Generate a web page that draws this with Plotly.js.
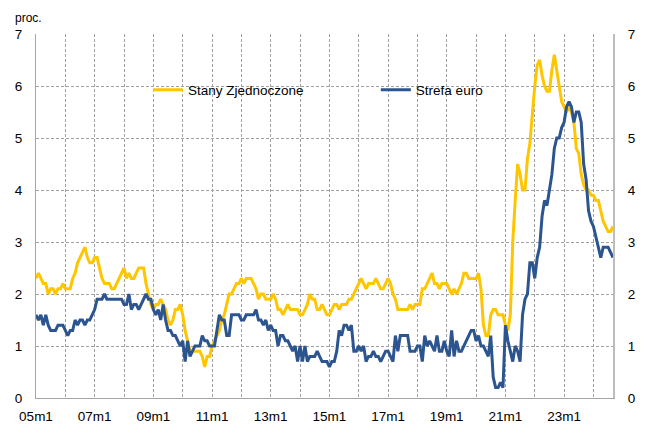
<!DOCTYPE html>
<html>
<head>
<meta charset="utf-8">
<script src="https://cdn.plot.ly/plotly-3.0.1.min.js"></script>
<style>
html,body{margin:0;padding:0;background:#fff;}
#chart{width:646px;height:434px;}
</style>
</head>
<body>
<div id="chart"></div>
<script>
// Monthly data, 2005m1 - 2024m9 (proc., r/r)
const startYear = 2005;
const seriesNames = ['Stany Zjednoczone', 'Strefa euro'];

const usValues = [
  2.3,2.4,2.3,2.2,2.2,2.0,2.1,2.1,2.0,2.1,2.1,2.2,
  2.1,2.1,2.1,2.3,2.4,2.6,2.7,2.8,2.9,2.7,2.6,2.6,
  2.7,2.7,2.5,2.3,2.2,2.2,2.2,2.1,2.1,2.2,2.3,2.4,
  2.5,2.3,2.4,2.3,2.3,2.4,2.5,2.5,2.5,2.2,2.0,1.8,
  1.7,1.8,1.8,1.9,1.8,1.7,1.5,1.4,1.5,1.7,1.7,1.8,
  1.6,1.3,1.1,0.9,0.9,0.9,0.9,0.9,0.8,0.6,0.8,0.8,
  1.0,1.1,1.2,1.3,1.5,1.6,1.8,2.0,2.0,2.1,2.2,2.2,
  2.3,2.2,2.3,2.3,2.3,2.2,2.1,1.9,2.0,2.0,1.9,1.9,
  1.9,2.0,1.9,1.7,1.7,1.6,1.7,1.8,1.7,1.7,1.7,1.7,
  1.6,1.6,1.7,1.8,2.0,1.9,1.9,1.7,1.7,1.8,1.7,1.6,
  1.6,1.7,1.8,1.8,1.7,1.8,1.8,1.8,1.9,1.9,2.0,2.1,
  2.2,2.3,2.2,2.1,2.2,2.2,2.2,2.3,2.2,2.1,2.1,2.2,
  2.3,2.2,2.0,1.9,1.7,1.7,1.7,1.7,1.7,1.8,1.7,1.8,
  1.8,1.8,2.1,2.1,2.2,2.3,2.4,2.2,2.2,2.1,2.2,2.2,
  2.2,2.1,2.0,2.1,2.0,2.1,2.2,2.4,2.4,2.3,2.3,2.3,
  2.3,2.4,2.1,1.4,1.2,1.2,1.6,1.7,1.7,1.6,1.6,1.6,
  1.4,1.3,1.6,3.0,3.8,4.5,4.3,4.0,4.0,4.6,4.9,5.5,
  6.0,6.4,6.5,6.2,6.0,5.9,5.9,6.3,6.6,6.3,6.0,5.7,
  5.6,5.5,5.6,5.5,5.3,4.8,4.7,4.3,4.1,4.0,4.0,3.9,
  3.9,3.8,3.8,3.6,3.4,3.3,3.2,3.2,3.3
];

const euroValues = [
  1.6,1.5,1.6,1.4,1.6,1.4,1.3,1.3,1.3,1.4,1.4,1.4,
  1.3,1.2,1.3,1.3,1.5,1.4,1.5,1.5,1.4,1.5,1.5,1.6,
  1.7,1.9,1.9,1.9,2.0,1.9,1.9,1.9,1.9,1.9,1.9,1.9,
  1.8,1.8,2.0,1.7,1.8,1.8,1.7,1.8,1.9,2.0,1.9,1.9,
  1.7,1.6,1.7,1.5,1.8,1.5,1.3,1.3,1.2,1.2,1.1,1.0,
  1.1,0.7,1.1,0.8,0.9,1.0,1.0,1.0,1.2,1.1,1.1,1.0,
  1.0,1.0,1.3,1.6,1.5,1.5,1.2,1.2,1.6,1.6,1.6,1.6,
  1.5,1.5,1.6,1.6,1.6,1.6,1.7,1.5,1.5,1.4,1.5,1.3,
  1.4,1.3,1.3,1.0,1.2,1.2,1.1,1.1,1.0,0.9,1.0,0.7,
  1.0,0.7,1.0,0.7,0.8,0.8,0.8,0.9,0.8,0.7,0.7,0.7,
  0.6,0.7,0.7,0.9,1.3,1.2,1.4,1.4,1.3,1.4,0.9,0.9,
  1.0,0.9,1.0,0.7,0.8,0.8,0.9,0.8,0.8,0.7,0.8,0.9,
  0.9,0.8,0.7,1.2,0.9,1.2,1.2,1.2,1.2,0.9,0.9,0.9,
  1.0,1.0,0.7,1.2,1.0,1.1,1.0,0.9,1.2,0.9,0.9,1.1,
  0.9,0.8,1.3,0.8,1.1,0.9,0.9,1.0,1.1,1.2,1.3,1.3,
  1.1,1.2,1.0,1.0,0.9,0.8,1.2,0.4,0.2,0.2,0.3,0.2,
  1.4,1.1,0.9,0.7,1.0,0.9,0.7,1.6,1.9,2.0,2.6,2.6,
  2.3,2.7,2.9,3.5,3.8,3.7,4.0,4.3,4.8,5.0,5.0,5.2,
  5.3,5.6,5.7,5.6,5.3,5.5,5.5,5.3,4.5,4.2,3.6,3.4,
  3.3,3.1,2.9,2.7,2.9,2.9,2.9,2.8,2.7
];

// Tick labels (every second January), gridlines every January
const xTickLabels = ['05m1','07m1','09m1','11m1','13m1','15m1','17m1','19m1','21m1','23m1'];
const yTicks = [0,1,2,3,4,5,6,7];

const monthIndex = usValues.map((_, i) => i);
const lastIndex = usValues.length - 1;

const gridVals = [];
const gridText = [];
for (let y = 0; y * 12 <= lastIndex; y++) {
  gridVals.push(y * 12);
  gridText.push(y % 2 === 0 ? (xTickLabels[y / 2] || '') : '');
}

const FONT = '"Liberation Sans", Arial, sans-serif';
const axisGray = '#a6a6a6';
const gridGray = '#a0a0a0';

const traces = [
  {
    x: monthIndex, y: usValues, name: seriesNames[0], type: 'scatter', mode: 'lines',
    line: {color: '#FFC600', width: 3}, legend: 'legend', hoverinfo: 'skip'
  },
  {
    x: monthIndex, y: euroValues, name: seriesNames[1], type: 'scatter', mode: 'lines',
    line: {color: '#2C5590', width: 3}, legend: 'legend2', hoverinfo: 'skip'
  },
  {
    x: [0, lastIndex], y: [null, null], yaxis: 'y2', type: 'scatter', mode: 'lines',
    showlegend: false, hoverinfo: 'skip'
  }
];

const layout = {
  width: 646, height: 434,
  margin: {l: 36, r: 33, t: 34, b: 36, pad: 0},
  paper_bgcolor: '#fff', plot_bgcolor: '#fff',
  font: {family: FONT, size: 13.5, color: '#000'},
  showlegend: true,
  xaxis: {
    range: [0, lastIndex], tickmode: 'array', tickvals: gridVals, ticktext: gridText,
    showgrid: true, gridcolor: gridGray, griddash: '3px,2px', gridwidth: 1,
    showline: true, linecolor: axisGray, linewidth: 1, zeroline: false,
    ticks: '', ticklabelstandoff: 6, tickfont: {size: 13.5, color: '#000'}, fixedrange: true
  },
  yaxis: {
    range: [0, 7], tickmode: 'array', tickvals: yTicks,
    showgrid: true, gridcolor: gridGray, griddash: '3px,2px', gridwidth: 1,
    showline: true, linecolor: axisGray, linewidth: 1, zeroline: false,
    ticks: '', ticklabelstandoff: 10, tickfont: {size: 13.5, color: '#000'}, fixedrange: true
  },
  yaxis2: {
    range: [0, 7], tickmode: 'array', tickvals: yTicks, overlaying: 'y', side: 'right',
    showgrid: false, showline: true, linecolor: '#bdbdbd', linewidth: 2, zeroline: false,
    ticks: '', ticklabelstandoff: 10, tickfont: {size: 13.5, color: '#000'}, fixedrange: true
  },
  legend: {
    x: 0.194, y: 0.846, xanchor: 'left', yanchor: 'middle',
    bgcolor: 'rgba(0,0,0,0)', borderwidth: 0, font: {size: 13.5, color: '#000'}
  },
  legend2: {
    x: 0.589, y: 0.846, xanchor: 'left', yanchor: 'middle',
    bgcolor: 'rgba(0,0,0,0)', borderwidth: 0, font: {size: 13.5, color: '#000'}
  },
  annotations: [
    {text: 'proc.', xref: 'paper', yref: 'paper', x: -0.04, y: 1.044,
     xanchor: 'left', yanchor: 'middle', showarrow: false, font: {size: 12, color: '#000'}}
  ]
};

Plotly.newPlot('chart', traces, layout, {staticPlot: true, displayModeBar: false});
</script>
</body>
</html>
